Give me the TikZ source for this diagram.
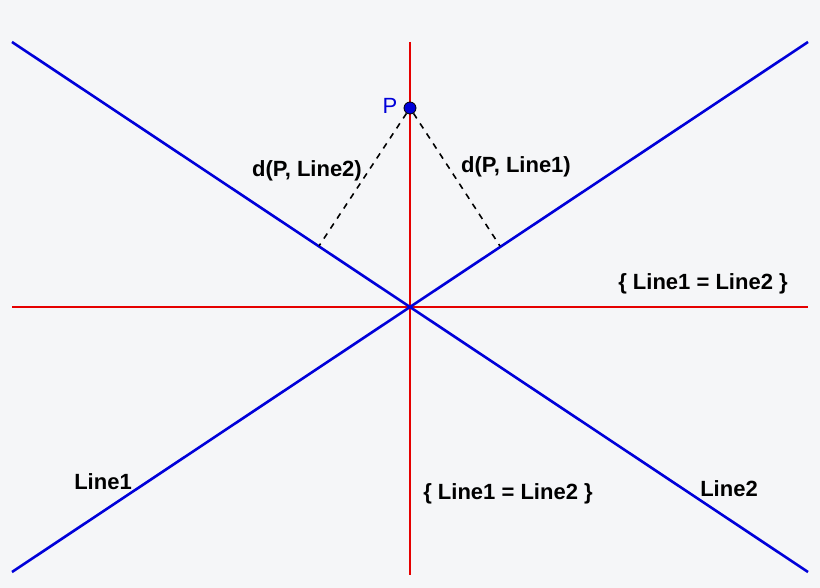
\documentclass[tikz,border=0pt]{standalone}
\usepackage{fontspec}
\setmainfont{Liberation Sans}
\usetikzlibrary{calc}
\definecolor{bg}{RGB}{245,246,248}
\tikzset{
  bline/.style={blue!85!black,line width=1.3pt},
  rline/.style={red!90!black,line width=1.4pt},
  lbl/.style={font=\bfseries\fontsize{11}{13}\selectfont,inner sep=1pt}
}
\begin{document}
\begin{tikzpicture}[x=0.5pt,y=-0.5pt]
\fill [bg] (0,0) rectangle (820,588);
\useasboundingbox (0,0) rectangle (820,588);
% axes
\coordinate (O) at (410,307);
\coordinate (vt) at (410,42);
\coordinate (vb) at (410,575);
\coordinate (hl) at (12,307);
\coordinate (hr) at (808,307);
\draw [rline] (vt) -- (vb);
\draw [rline] (hl) -- (hr);
% lines
\coordinate (l1a) at (12,572);
\coordinate (l1b) at (808,42);
\coordinate (l2a) at (12,42);
\coordinate (l2b) at (808,572);
\draw [bline] (l1a) -- (l1b);
\draw [bline] (l2a) -- (l2b);
% point and distances
\node [circle,fill=blue!85!black,draw=black,inner sep=0pt,minimum size=6pt] (P) at (410,108) {};
\coordinate (f2) at (319,246);
\coordinate (f1) at (500,246);
\draw [dashed,line width=0.8pt] (P) -- (f2);
\draw [dashed,line width=0.8pt] (P) -- (f1);
\node [lbl,font=\fontsize{11}{13}\selectfont,text=blue!85!black] (Plbl) at (390,106) {P};
\node [lbl] (d2) at (307,171) {d(P, Line2)};
\node [lbl] (d1) at (516,167) {d(P, Line1)};
\node [lbl] (eqh) at (703,284) {\{ Line1 = Line2 \}};
\node [lbl] (eqv) at (508,494) {\{ Line1 = Line2 \}};
\node [lbl] (n1) at (103,482) {Line1};
\node [lbl] (n2) at (729,489) {Line2};
\end{tikzpicture}
\end{document}
